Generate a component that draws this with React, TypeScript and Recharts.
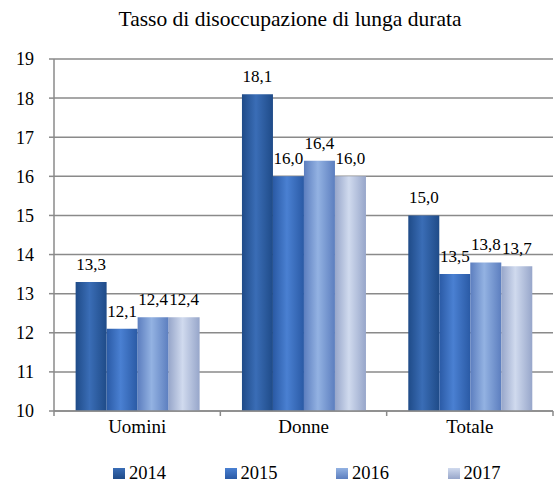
import React from 'react';
import { BarChart, Bar, XAxis, YAxis, CartesianGrid, LabelList } from 'recharts';

const categories = ['Uomini', 'Donne', 'Totale'];
const years = ['2014', '2015', '2016', '2017'];
const values2014 = [13.3, 18.1, 15.0];
const values2015 = [12.1, 16.0, 13.5];
const values2016 = [12.4, 16.4, 13.8];
const values2017 = [12.4, 16.0, 13.7];
const yTicks = [10, 11, 12, 13, 14, 15, 16, 17, 18, 19];

const seriesValues = [values2014, values2015, values2016, values2017];
const colors = [
    { edge: '#1f4b88', mid: '#3a6db6' },
    { edge: '#2a5aa5', mid: '#4a80d2' },
    { edge: '#5c7ebf', mid: '#93b2e2' },
    { edge: '#97a6ca', mid: '#d0daee' },
];

const data = categories.map((name, i) => {
    const row: Record<string, string | number> = { name };
    years.forEach((y, k) => {
        row[y] = seriesValues[k][i];
    });
    return row;
});

const font = "'Liberation Serif', 'Times New Roman', serif";
const fmt = (v: any) => Number(v).toFixed(1).replace('.', ',');

// category label + small tick marks at the category boundaries
const CategoryTick = (props: any) => {
    const { x, y, payload, width, index } = props;
    const half = width / (2 * categories.length);
    return (
        <g>
            <line x1={x - half} x2={x - half} y1={y} y2={y + 5} stroke="#8a8a8a" strokeWidth={1.5} />
            {index === categories.length - 1 && (
                <line x1={x + half} x2={x + half} y1={y} y2={y + 5} stroke="#8a8a8a" strokeWidth={1.5} />
            )}
            <text x={x} y={y + 22} textAnchor="middle" style={{ fontFamily: font }} fontSize={19} fill="#000">
                {payload.value}
            </text>
        </g>
    );
};

export default function App() {
    return (
        <div style={{ position: 'absolute', left: 0, top: 0, width: 559, height: 484, background: '#fff', fontFamily: font }}>
            <div style={{ position: 'absolute', top: 8, left: 0, width: 580, textAlign: 'center', fontSize: 21.5, lineHeight: '22px' }}>
                Tasso di disoccupazione di lunga durata
            </div>
            <BarChart
                width={559}
                height={484}
                data={data}
                margin={{ top: 59, right: 6, left: 0, bottom: 43 }}
                barGap={0}
                barCategoryGap="13%"
            >
                <defs>
                    {colors.map((c, k) => (
                        <linearGradient key={k} id={`g${k}`} x1="0" y1="0" x2="1" y2="0">
                            <stop offset="0%" stopColor={c.edge} />
                            <stop offset="45%" stopColor={c.mid} />
                            <stop offset="100%" stopColor={c.edge} />
                        </linearGradient>
                    ))}
                </defs>
                <CartesianGrid vertical={false} stroke="#8a8a8a" strokeWidth={1.5} />
                <XAxis
                    dataKey="name"
                    height={30}
                    tick={<CategoryTick />}
                    tickLine={false}
                    tickSize={0}
                    tickMargin={0}
                    axisLine={{ stroke: '#8a8a8a', strokeWidth: 1.5 }}
                />
                <YAxis
                    width={54}
                    domain={[10, 19]}
                    ticks={yTicks}
                    interval={0}
                    allowDataOverflow
                    tick={{ fontSize: 18, fill: '#000', style: { fontFamily: font } }}
                    tickSize={5}
                    tickMargin={15}
                    tickLine={{ stroke: '#8a8a8a', strokeWidth: 1.5 }}
                    axisLine={{ stroke: '#8a8a8a', strokeWidth: 1.5 }}
                />
                {years.map((y, k) => (
                    <Bar key={y} dataKey={y} fill={`url(#g${k})`} isAnimationActive={false}>
                        <LabelList
                            dataKey={y}
                            position="top"
                            offset={12}
                            formatter={fmt}
                            style={{ fontFamily: font, fontSize: 17, fill: '#000' }}
                        />
                    </Bar>
                ))}
            </BarChart>
            {years.map((y, k) => (
                <div
                    key={y}
                    style={{ position: 'absolute', top: 463, left: 113 + k * 111.5, display: 'flex', alignItems: 'flex-end', fontSize: 18.5, lineHeight: '20px' }}
                >
                    <span
                        style={{
                            display: 'inline-block',
                            width: 12,
                            height: 11,
                            marginRight: 4,
                            marginBottom: 4,
                            background: `linear-gradient(180deg, ${colors[k].mid}, ${colors[k].edge})`,
                        }}
                    />
                    <span>{y}</span>
                </div>
            ))}
        </div>
    );
}
